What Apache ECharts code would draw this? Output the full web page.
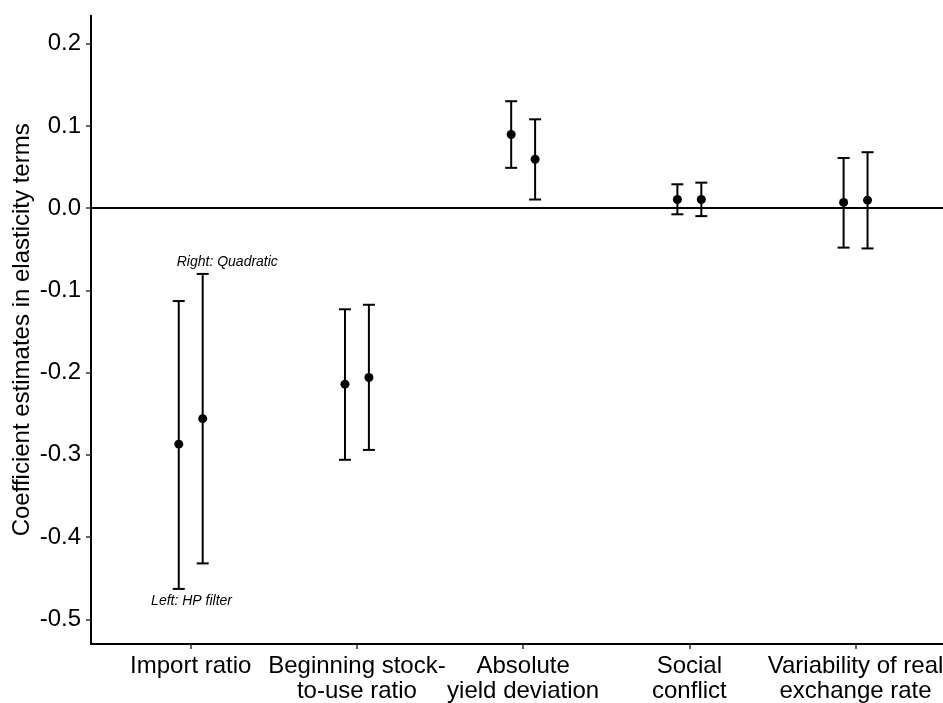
<!DOCTYPE html>
<html>
<head>
<meta charset="utf-8">
<script src="https://cdn.jsdelivr.net/npm/echarts@6/dist/echarts.min.js"></script>
<style>
  html, body { margin: 0; padding: 0; background: #fff; }
  #chart { width: 943px; height: 703px; }
</style>
</head>
<body>
<div id="chart"></div>
<script>
// Determinant categories, in order along the x axis
const categories = [
  'Import ratio',
  'Beginning stock-\nto-use ratio',
  'Absolute\nyield deviation',
  'Social\nconflict',
  'Variability of real\nexchange rate'
];

// Left estimate of each pair: HP filter
const hpEstimate = [-0.287, -0.214, 0.0895, 0.0105, 0.007];
const hpLower    = [-0.463, -0.306, 0.049, -0.0075, -0.048];
const hpUpper    = [-0.113, -0.123, 0.130, 0.029, 0.061];

// Right estimate of each pair: quadratic trend
const quadEstimate = [-0.256, -0.206, 0.0595, 0.0105, 0.0097];
const quadLower    = [-0.432, -0.294, 0.0105, -0.0097, -0.049];
const quadUpper    = [-0.080, -0.1175, 0.108, 0.031, 0.068];

const yTicks = [-0.5, -0.4, -0.3, -0.2, -0.1, 0.0, 0.1, 0.2];

// Text notes placed in data coordinates
const notes = [
  { text: 'Right: Quadratic', x: 1.22, y: -0.066 },
  { text: 'Left: HP filter',  x: 1.005, y: -0.478 }
];

const dodge = 0.072;
const catPos = categories.map((_, i) => i + 1);

function intervalData(est, lo, hi, shift) {
  return est.map((v, i) => [catPos[i] + shift, lo[i], hi[i]]);
}
function pointData(est, shift) {
  return est.map((v, i) => [catPos[i] + shift, v]);
}

function renderErrorBar(params, api) {
  const x = api.value(0);
  const top = api.coord([x, api.value(2)]);
  const bot = api.coord([x, api.value(1)]);
  const half = 6;
  const style = { stroke: '#000', lineWidth: 2 };
  return {
    type: 'group',
    children: [
      { type: 'line', shape: { x1: top[0], y1: top[1], x2: bot[0], y2: bot[1] }, style },
      { type: 'line', shape: { x1: top[0] - half, y1: top[1], x2: top[0] + half, y2: top[1] }, style },
      { type: 'line', shape: { x1: bot[0] - half, y1: bot[1], x2: bot[0] + half, y2: bot[1] }, style }
    ]
  };
}

const font = 'Liberation Sans, Arial, sans-serif';
const chart = echarts.init(document.getElementById('chart'), null, { renderer: 'canvas' });

chart.setOption({
  backgroundColor: '#fff',
  animation: false,
  grid: { left: 91, right: 0, top: 15.7, bottom: 59, containLabel: false, outerBoundsMode: 'none' },
  xAxis: {
    type: 'value',
    min: 0.4,
    max: 5.526,
    splitLine: { show: false },
    axisLine: { show: true, onZero: false, lineStyle: { color: '#000', width: 2 } },
    axisTick: { show: true, customValues: catPos, length: 5, lineStyle: { color: '#333', width: 1.5 } },
    axisLabel: {
      show: true,
      customValues: catPos,
      formatter: v => categories[Math.round(v) - 1] || '',
      color: '#000',
      fontFamily: font,
      fontSize: 24,
      lineHeight: 25,
      margin: 10,
      hideOverlap: false
    }
  },
  yAxis: {
    type: 'value',
    min: -0.53,
    max: 0.234,
    splitLine: { show: false },
    axisLine: { show: true, onZero: false, lineStyle: { color: '#000', width: 2 } },
    axisTick: { show: true, customValues: yTicks, length: 5, lineStyle: { color: '#333', width: 1.5 } },
    axisLabel: {
      show: true,
      customValues: yTicks,
      formatter: v => v.toFixed(1),
      color: '#000',
      fontFamily: font,
      fontSize: 24,
      margin: 10
    },
    name: 'Coefficient estimates in elasticity terms',
    nameLocation: 'middle',
    nameGap: 57,
    nameMoveOverlap: false,
    nameTextStyle: { color: '#000', fontFamily: font, fontSize: 24 }
  },
  series: [
    {
      type: 'custom',
      name: 'HP filter',
      renderItem: renderErrorBar,
      encode: { x: 0, y: [1, 2] },
      data: intervalData(hpEstimate, hpLower, hpUpper, -dodge),
      z: 2,
      markLine: {
        silent: true,
        symbol: 'none',
        label: { show: false },
        lineStyle: { color: '#000', width: 2, type: 'solid' },
        data: [{ yAxis: 0 }]
      }
    },
    {
      type: 'custom',
      name: 'Quadratic',
      renderItem: renderErrorBar,
      encode: { x: 0, y: [1, 2] },
      data: intervalData(quadEstimate, quadLower, quadUpper, dodge),
      z: 2
    },
    {
      type: 'scatter',
      data: pointData(hpEstimate, -dodge),
      symbol: 'circle',
      symbolSize: 9,
      itemStyle: { color: '#000', opacity: 1 },
      z: 3
    },
    {
      type: 'scatter',
      data: pointData(quadEstimate, dodge),
      symbol: 'circle',
      symbolSize: 9,
      itemStyle: { color: '#000', opacity: 1 },
      z: 3
    },
    {
      type: 'scatter',
      data: notes.map(n => ({ value: [n.x, n.y], name: n.text })),
      symbolSize: 0,
      silent: true,
      itemStyle: { opacity: 1 },
      label: {
        show: true,
        position: 'inside',
        formatter: p => p.name,
        color: '#000',
        fontFamily: font,
        fontStyle: 'italic',
        fontSize: 14
      },
      z: 4
    }
  ]
});
</script>
</body>
</html>
